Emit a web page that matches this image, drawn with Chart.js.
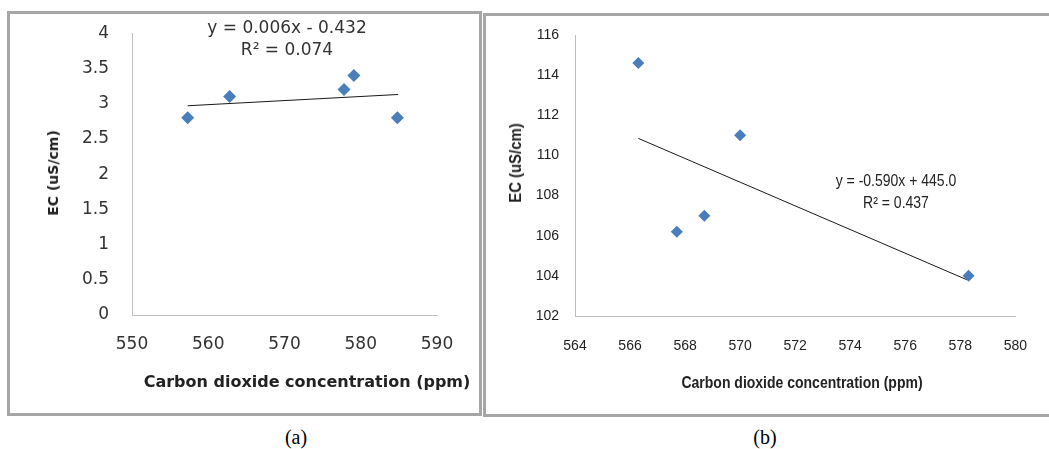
<!DOCTYPE html>
<html>
<head>
<meta charset="utf-8">
<script src="https://cdn.jsdelivr.net/npm/chart.js@4"></script>
<style>
  body { margin: 0; width: 1049px; height: 449px; overflow: hidden; background: #fff; position: relative; }
  .box { position: absolute; border: 3px solid #a6a6a6; box-sizing: border-box; }
  canvas { position: absolute; top: 0; }
  .txt { position: absolute; white-space: nowrap; transform: translate(-50%, -50%); line-height: 1; }
  .rot { transform: translate(-50%, -50%) rotate(-90deg); }
  .a { font-family: "DejaVu Sans", sans-serif; color: #333; }
  .b { font-family: "Liberation Sans", Arial, sans-serif; color: #222; font-size: 16px; transform: translate(-50%, -50%) scaleX(0.875); }
  .b.rot { transform: translate(-50%, -50%) rotate(-90deg) scaleX(0.93); }
  .cap { font-family: "Liberation Serif", serif; font-size: 20px; color: #000; }
</style>
</head>
<body>
<div class="box" style="left:7px; top:11px; width:475px; height:405px;"></div>
<div class="box" style="left:483px; top:13px; width:600px; height:404px;"></div>

<canvas id="chartA" width="482" height="420" style="left:0;"></canvas>
<canvas id="chartB" width="569" height="420" style="left:480px;"></canvas>

<div class="txt a" style="left:287px; top:27px; font-size:17px;">y = 0.006x - 0.432</div>
<div class="txt a" style="left:287px; top:49px; font-size:17px;">R² = 0.074</div>
<div class="txt a rot" style="left:53px; top:173px; font-size:14px; font-weight:bold; color:#222;">EC (uS/cm)</div>
<div class="txt a" style="left:307px; top:382px; font-size:16px; font-weight:bold; color:#222;">Carbon dioxide concentration (ppm)</div>

<div class="txt b" style="left:896px; top:181px;">y = -0.590x + 445.0</div>
<div class="txt b" style="left:896px; top:203px;">R² = 0.437</div>
<div class="txt b rot" style="left:516px; top:163px; font-weight:bold;">EC (uS/cm)</div>
<div class="txt b" style="left:802px; top:383px; font-weight:bold;">Carbon dioxide concentration (ppm)</div>

<div class="txt cap" style="left:296px; top:437px;">(a)</div>
<div class="txt cap" style="left:765px; top:437px;">(b)</div>

<script>
// (a) values
const co2A = [557.3, 562.8, 577.8, 579.1, 584.8];
const ecA = [2.8, 3.1, 3.2, 3.4, 2.8];
const trendXA = [557.3, 584.9];
const trendYA = [2.97, 3.13];
const xTicksA = [550, 560, 570, 580, 590];
const yTicksA = [0, 0.5, 1, 1.5, 2, 2.5, 3, 3.5, 4];

// (b) values
const co2B = [566.3, 567.7, 568.7, 570.0, 578.3];
const ecB = [114.6, 106.2, 107.0, 111.0, 104.0];
const trendXB = [566.3, 578.25];
const trendYB = [110.85, 103.8];
const xTicksB = [564, 566, 568, 570, 572, 574, 576, 578, 580];
const yTicksB = [102, 104, 106, 108, 110, 112, 114, 116];

const pts = (xs, ys) => xs.map((x, i) => ({ x: x, y: ys[i] }));

function makeChart(id, o) {
  const tickFont = { family: o.family, size: o.tickSize, lineHeight: 1.2 };
  const axis = (ticks, pad, fitKey, fitVal) => ({
    type: "linear",
    min: ticks[0],
    max: ticks[ticks.length - 1],
    grid: { display: false, drawTicks: false },
    border: { display: true, color: "#bfbfbf", width: 1 },
    ticks: {
      stepSize: ticks[1] - ticks[0],
      padding: pad,
      color: o.tickColor,
      font: tickFont,
      callback: (v) => String(v)
    },
    afterFit: (s) => { s[fitKey] = fitVal; }
  });
  return new Chart(document.getElementById(id), {
    type: "scatter",
    data: {
      datasets: [{
        data: pts(o.xs, o.ys),
        pointStyle: "rectRot",
        pointRadius: o.r,
        backgroundColor: "#4a7ebb",
        borderColor: "#4a7ebb",
        borderWidth: 0
      }, {
        type: "line",
        data: pts(o.tx, o.ty),
        borderColor: "#1a1a1a",
        borderWidth: 1,
        pointRadius: 0,
        fill: false
      }]
    },
    options: {
      responsive: false,
      animation: false,
      events: [],
      layout: { padding: o.padding },
      plugins: { legend: { display: false }, tooltip: { enabled: false } },
      scales: {
        x: axis(o.xTicks, o.xPad, "height", o.xH),
        y: axis(o.yTicks, o.yPad, "width", o.yW)
      }
    }
  });
}

makeChart("chartA", {
  xs: co2A, ys: ecA, tx: trendXA, ty: trendYA,
  xTicks: xTicksA, yTicks: yTicksA,
  family: "DejaVu Sans", tickSize: 17, tickColor: "#333", r: 6.5,
  padding: { left: 0, right: 45, top: 32, bottom: 0 },
  yW: 132, xH: 105, yPad: 23, xPad: 19
});

makeChart("chartB", {
  xs: co2B, ys: ecB, tx: trendXB, ty: trendYB,
  xTicks: xTicksB, yTicks: yTicksB,
  family: "Liberation Sans", tickSize: 14, tickColor: "#222", r: 6,
  padding: { left: 0, right: 19, top: 35, bottom: 0 },
  yW: 95, xH: 104, yPad: 16, xPad: 22
});
</script>
</body>
</html>
